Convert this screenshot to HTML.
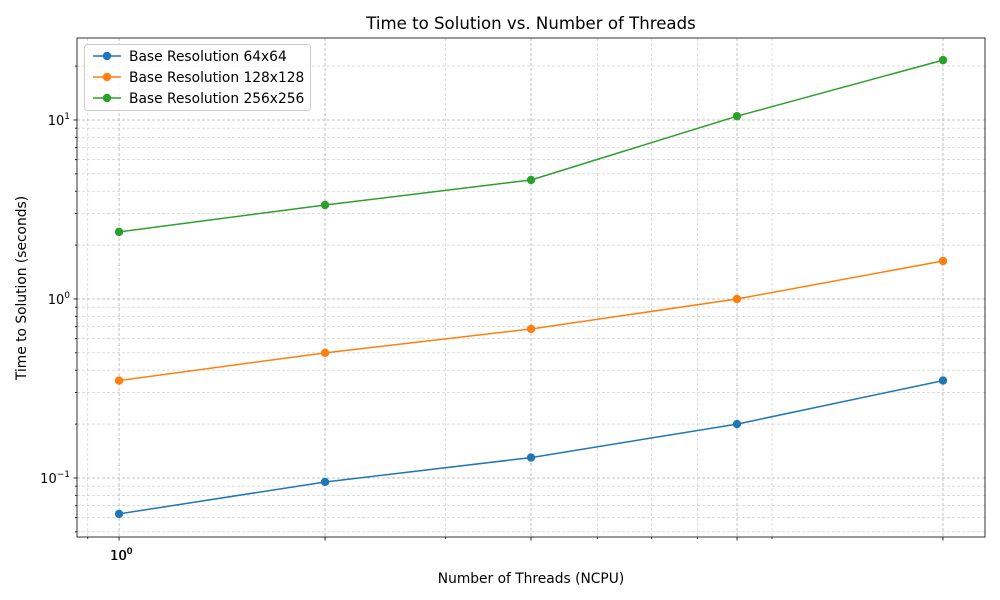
<!DOCTYPE html>
<html><head><meta charset="utf-8">
<style>body{margin:0;background:#fff}svg{display:block;font-family:"DejaVu Sans","Liberation Sans",sans-serif}</style>
</head><body>
<svg id="chart" width="1000" height="600" viewBox="0 0 1000 600"></svg>
<script>
const threads = [1, 2, 4, 8, 16];
const seriesNames = ["Base Resolution 64x64", "Base Resolution 128x128", "Base Resolution 256x256"];
const series64 = [0.063, 0.095, 0.13, 0.2, 0.35];
const series128 = [0.35, 0.5, 0.68, 1.0, 1.63];
const series256 = [2.37, 3.35, 4.62, 10.5, 21.6];
const colors = ["#1f77b4", "#ff7f0e", "#2ca02c"];

const NS = "http://www.w3.org/2000/svg";
const svg = document.getElementById("chart");
const L = 77, R = 985, T = 38, B = 537;
const xMin = Math.log10(0.868), xMax = Math.log10(18.43);
const yMin = Math.log10(0.0468), yMax = Math.log10(28.7);
const xs = v => L + (Math.log10(v) - xMin) / (xMax - xMin) * (R - L);
const ys = v => B - (Math.log10(v) - yMin) / (yMax - yMin) * (B - T);
function el(tag, attrs, parent) {
  const e = document.createElementNS(NS, tag);
  for (const k in attrs) e.setAttribute(k, attrs[k]);
  (parent || svg).appendChild(e);
  return e;
}
const GRID_MAJ = {stroke: "#b0b0b0", "stroke-width": 0.8, "stroke-dasharray": "3,2"};
const GRID_MIN = {stroke: "#c8c8c8", "stroke-width": 0.6, "stroke-dasharray": "3,2"};
const grid = el("g", {});


const xGridVals = [];
for (let d = -1; d <= 0; d++) for (let m = 1; m <= 9; m++) xGridVals.push(m * Math.pow(10, d));
threads.forEach(t => { if (!xGridVals.includes(t)) xGridVals.push(t); });
xGridVals.forEach(v => {
  const x = xs(v);
  if (x >= L && x <= R) {
    const major = threads.includes(v);
    const g = el("line", Object.assign({x1: x, x2: x, y1: T, y2: B}, major ? GRID_MAJ : GRID_MIN), grid);
    
    
    const t = el("line", {x1: x, x2: x, y1: B, y2: B + (major ? 3.5 : 2), stroke: "#000", "stroke-width": 0.8});
    
    
  }
});
for (let d = -2; d <= 1; d++) for (let m = 1; m <= 9; m++) {
  const v = m * Math.pow(10, d);
  const y = ys(v);
  if (y >= T && y <= B) {
    const g = el("line", Object.assign({x1: L, x2: R, y1: y, y2: y}, m === 1 ? GRID_MAJ : GRID_MIN), grid);
    
    
    const t = el("line", {x1: L, x2: L - (m === 1 ? 3.5 : 2), y1: y, y2: y, stroke: "#000", "stroke-width": 0.8});
    
    
  }
}
[[10, "1"], [1, "0"], [0.1, "−1"]].forEach(([v, e]) => {
  const t = el("text", {x: L - 7, y: ys(v) + 5, "text-anchor": "end", "font-size": 13});
  
  
  t.innerHTML = '10<tspan dy="-6" font-size="9">' + e + '</tspan>';
});
for (let k = 0; k < 2; k++) {
  const t = el("text", {x: xs(1) + 2 + k * 0.5, y: 560, "text-anchor": "middle", "font-size": 13});
  
  
  t.innerHTML = '10<tspan dy="-6" font-size="9">0</tspan>';
}
const frame = el("rect", {x: L, y: T, width: R - L, height: B - T, fill: "none", stroke: "#000", "stroke-width": 0.8});


const allSeries = [series64, series128, series256];
allSeries.forEach((s, i) => {
  const g = el("g", {});
  
  
  const pts = threads.map((t, j) => xs(t) + "," + ys(s[j])).join(" ");
  const pl = el("polyline", {points: pts, fill: "none", stroke: colors[i], "stroke-width": 1.5}, g);
  
  
  threads.forEach((t, j) => {
    const c = el("circle", {cx: xs(t), cy: ys(s[j]), r: 4.2, fill: colors[i]}, g);
    
    
  });
});
const title = el("text", {x: 531, y: 29, "text-anchor": "middle", "font-size": 16.6});


title.textContent = "Time to Solution vs. Number of Threads";
const xt = el("text", {x: 531, y: 583, "text-anchor": "middle", "font-size": 13.8});


xt.textContent = "Number of Threads (NCPU)";
const yt = el("text", {x: 0, y: 0, "text-anchor": "middle", "font-size": 13.8, transform: "translate(26,288) rotate(-90)"});


yt.textContent = "Time to Solution (seconds)";
const lg = el("g", {});


const lb = el("rect", {x: 84.5, y: 44.5, width: 226, height: 66, rx: 3, fill: "#fff", "fill-opacity": 0.8, stroke: "#ccc"}, lg);


seriesNames.forEach((n, i) => {
  const y = 56 + i * 21;
  const e = el("g", {}, lg);
  
  
  el("line", {x1: 93, x2: 121, y1: y, y2: y, stroke: colors[i], "stroke-width": 1.5}, e);
  el("circle", {cx: 107, cy: y, r: 4.2, fill: colors[i]}, e);
  const t = el("text", {x: 129, y: y + 5, "font-size": 13.8}, e);
  t.textContent = n;
});
</script>
</body></html>
